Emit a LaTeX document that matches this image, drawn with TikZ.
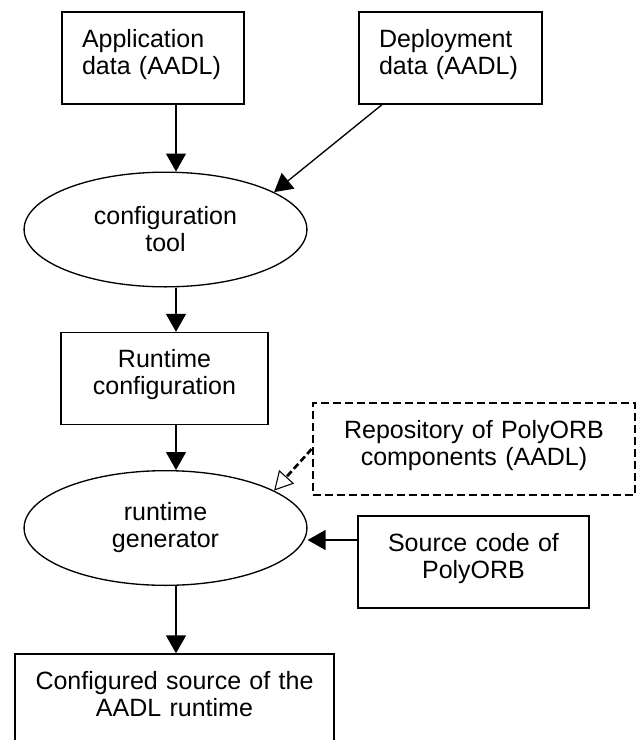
\documentclass[tikz,border=0pt]{standalone}
\usepackage{fontspec}
\setmainfont{Liberation Sans}
\usepackage{tikz}
\usetikzlibrary{shapes.geometric, arrows.meta, positioning}

\begin{document}
\begin{tikzpicture}[
    x=0.75pt, y=-0.75pt,
    font=\fontsize{18.75}{20.25}\selectfont,
    databox/.style={draw, line width=1pt, inner xsep=0pt, inner ysep=0pt, text height=26.25pt, text depth=42.75pt, align=center},
    leftbox/.style={databox, inner xsep=15pt, align=left},
    repobox/.style={databox, line width=2pt, dash pattern=on 6pt off 3pt},
    toolshape/.style={draw, ellipse, line width=1pt, inner sep=0pt, minimum width=188pt, minimum height=86pt, text width=150pt, align=center},
    arrow/.style={-{Triangle[length=13.5pt, width=15pt]}, line width=1pt},
    reuse/.style={-{Triangle[open, length=14pt, width=15pt, line width=0.8pt]}, line width=2pt, dash pattern=on 5pt off 2.5pt}
]
\useasboundingbox (0,0) rectangle (641,740);
\clip (0,0) rectangle (641,740);

% === INPUT DATA ===
\node[leftbox, text width=106.5pt] (appdata) at (153,58) {Application\\data (AADL)};
\node[leftbox, text width=107.25pt] (deploydata) at (450.5,58) {Deployment\\data (AADL)};

% === TOOLS AND PRODUCTS ===
\node[toolshape] (conftool) at (165.5,229.5) {configuration\\tool};
\node[databox, text width=155.25pt] (runconf) at (164.5,378.5) {Runtime\\configuration};
\node[toolshape] (rungen) at (165.5,528) {runtime\\generator};
\node[repobox, text width=241.5pt] (repo) at (474,449) {Repository of PolyORB\\components (AADL)};
\node[databox, text width=173.25pt] (polysrc) at (473.5,562) {Source code of\\PolyORB};
\node[databox, text width=239.25pt] (result) at (174.5,700) {Configured source of the\\AADL runtime};

% === CONNECTORS ===
\coordinate (spine) at (176,0);
\coordinate (srcin) at (0,540);
\coordinate (deployout) at (382,0);
\draw[arrow] (appdata.south -| spine) -- (conftool.north -| spine);
\draw[arrow] (deploydata.south -| deployout) -- (conftool.19);
\draw[arrow] (conftool.south -| spine) -- (runconf.north -| spine);
\draw[arrow] (runconf.south -| spine) -- (rungen.north -| spine);
\draw[reuse] (repo.west) -- (rungen.19);
\draw[arrow] (polysrc.west |- srcin) -- (srcin -| rungen.east);
\draw[arrow] (rungen.south -| spine) -- (result.north -| spine);

\end{tikzpicture}
\end{document}
